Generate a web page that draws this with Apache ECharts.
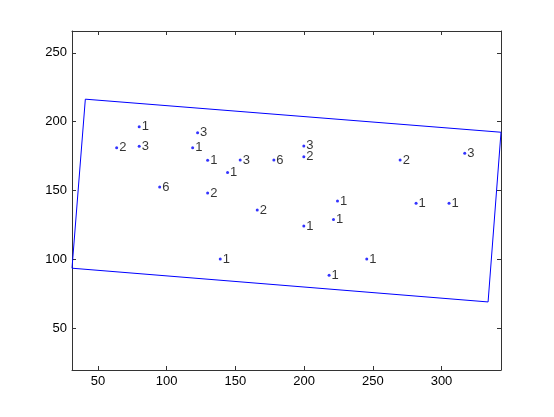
<!DOCTYPE html>
<html>
<head>
<meta charset="utf-8">
<script src="https://cdn.jsdelivr.net/npm/echarts@6/dist/echarts.min.js"></script>
<style>html,body{margin:0;padding:0;background:#fff}#c{width:554px;height:417px}</style>
</head>
<body>
<div id="c"></div>
<script>
// Point data
var xs = [80.0, 63.6, 80.0, 122.5, 118.9, 129.8, 153.5, 144.3, 94.9, 129.8, 178.0, 199.8, 199.8, 165.9, 224.3, 221.4, 199.8, 139.0, 218.2, 245.6, 269.9, 316.9, 281.5, 305.5];
var ys = [196.2, 181.1, 182.1, 192.0, 181.1, 172.0, 172.2, 163.0, 152.5, 148.2, 172.2, 182.4, 174.6, 135.8, 142.4, 129.0, 124.2, 100.2, 88.5, 100.2, 172.2, 177.1, 140.7, 140.7];
var counts = ['1','2','3','3','1','1','3','1','6','2','6','3','2','2','1','1','1','1','1','1','2','3','1','1'];
// Bounding rectangle (closed)
var boxX = [40.8, 343.3, 333.9, 31.1, 40.8];
var boxY = [216.3, 192.3, 69.1, 93.6, 216.3];
// Axis limits
var xMin = 31.1, xMax = 343.3, yMin = 19.7, yMax = 265.8;

var pts = xs.map(function (x, i) { return [x, ys[i], counts[i]]; });
var box = boxX.map(function (x, i) { return [x, boxY[i]]; });

var axisCol = '#333';
var font = 'Liberation Sans, Arial, Helvetica, sans-serif';
function ax(extra) {
  var base = {
    type: 'value',
    splitLine: { show: false },
    axisLine: { show: true, onZero: false, lineStyle: { color: axisCol, width: 1 } },
    axisTick: { show: true, inside: true, length: 4, lineStyle: { color: axisCol } },
    axisLabel: { show: true, color: '#000', fontSize: 13, fontFamily: font, margin: 5, showMinLabel: false, showMaxLabel: false }
  };
  for (var k in extra) base[k] = extra[k];
  return base;
}
var chart = echarts.init(document.getElementById('c'), null, { renderer: 'canvas' });
chart.setOption({
  animation: false,
  backgroundColor: '#fff',
  grid: { left: 72, right: 53, top: 31, bottom: 47 },
  xAxis: [
    ax({ position: 'bottom', min: xMin, max: xMax }),
    ax({ position: 'top', min: xMin, max: xMax, axisLabel: { show: false } })
  ],
  yAxis: [
    ax({ position: 'left', min: yMin, max: yMax }),
    ax({ position: 'right', min: yMin, max: yMax, axisLabel: { show: false } })
  ],
  series: [
    {
      type: 'line',
      data: box,
      showSymbol: false,
      symbol: 'none',
      lineStyle: { color: '#0000ff', width: 1 },
      silent: true
    },
    {
      type: 'scatter',
      data: pts,
      symbol: 'circle',
      symbolSize: 3,
      itemStyle: { color: '#0000ff' },
      label: {
        show: true,
        position: 'right',
        distance: 1,
        formatter: function (p) { return p.value[2]; },
        color: '#000',
        fontSize: 13,
        fontFamily: font
      }
    }
  ]
});
</script>
</body>
</html>
